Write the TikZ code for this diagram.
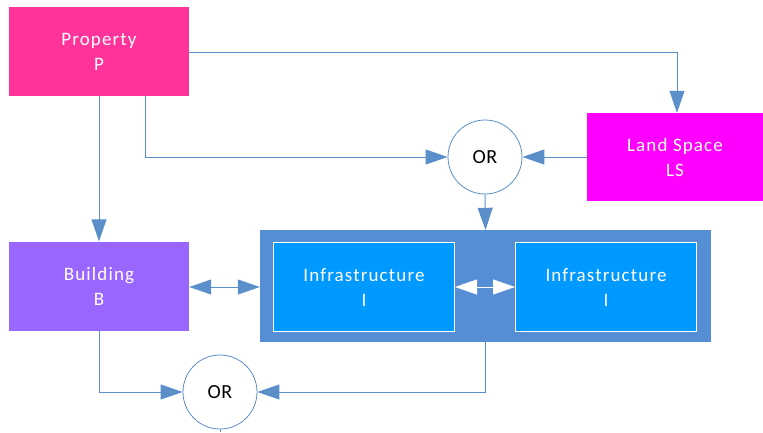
\documentclass[tikz,border=0pt]{standalone}
\usepackage{fontspec}
\setmainfont{Carlito}
\newfontfamily\lblfont[LetterSpace=6]{Carlito}
\newfontfamily\orfont[LetterSpace=3]{Carlito}
\usetikzlibrary{arrows.meta}
\definecolor{lineblue}{HTML}{5B8FC9}
\definecolor{propc}{HTML}{FF3399}
\definecolor{landc}{HTML}{FF00FF}
\definecolor{buildc}{HTML}{9966FF}
\definecolor{contc}{HTML}{558ED5}
\definecolor{infc}{HTML}{0099FF}
\tikzset{
  tip/.tip={Triangle[length=22pt,width=15pt]},
  box/.style={draw=none, minimum width=180pt, minimum height=89pt, text=white, align=center, font=\lblfont\fontsize{19}{25}\selectfont, inner sep=0pt},
  infbox/.style={draw=white, line width=1pt, fill=infc, minimum width=181pt, minimum height=89pt, text=white, align=center, font=\lblfont\fontsize{19}{25}\selectfont, inner sep=0pt},
  orc/.style={circle, draw=lineblue, line width=0.8pt, fill=white, minimum size=74pt, inner sep=0pt, font=\orfont\fontsize{20}{22}\selectfont},
  conn/.style={draw=lineblue, line width=1pt, -tip},
  bconn/.style={draw=lineblue, line width=1pt, tip-tip},
  wconn/.style={draw=white, line width=1pt, tip-tip},
  plain/.style={draw=lineblue, line width=1pt}
}
\begin{document}
\begin{tikzpicture}[x=1pt,y=-1pt]
\useasboundingbox (0,0) rectangle (763,432);
\node[box, fill=propc, minimum width=180pt, minimum height=89pt] (P) at (99,51.5) {Property\\P};
\node[box, fill=landc, minimum width=176pt, minimum height=88pt] (LS) at (675,157) {Land Space\\LS};
\node[box, fill=buildc, minimum width=180pt, minimum height=89pt] (B) at (99,286) {Building\\B};
\node[fill=contc, minimum width=451pt, minimum height=112pt, inner sep=0pt] (C) at (485.5,286) {};
\node[infbox] (I1) at (364,287) {Infrastructure\\I};
\node[infbox] (I2) at (606,287) {Infrastructure\\I};
\node[orc] (OR1) at (485,157) {OR};
\node[orc] (OR2) at (220,392) {OR};
\coordinate (bot) at (220,432);
% connectors
\draw[conn] (P.east |- 0,52) -| (LS.north -| 677,0);
\draw[conn] (P.south -| 145,0) |- (OR1.west);
\draw[conn] (P.south) -- (B.north);
\draw[conn] (LS.west) -- (OR1.east);
\draw[conn] (OR1.south) -- (C.north);
\draw[bconn] (B.east |- 0,287) -- (C.west |- 0,287);
\draw[wconn] (I1.east) -- (I2.west);
\draw[conn] (B.south) |- (OR2.west);
\draw[conn] (C.south) |- (OR2.east);
\draw[plain] (OR2.south) -- (bot);
\end{tikzpicture}
\end{document}
